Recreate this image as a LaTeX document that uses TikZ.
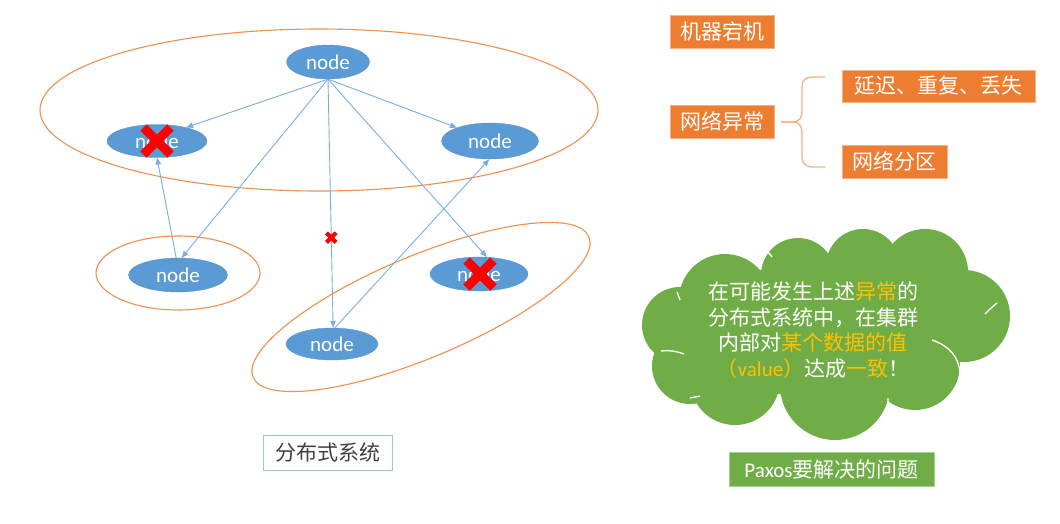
\documentclass[tikz,border=0pt]{standalone}
\usepackage{fontspec}
\setmainfont{Carlito}
\newfontfamily\cjk{Noto Sans CJK SC}
\usetikzlibrary{arrows.meta,shapes.geometric}
\definecolor{nodeblue}{HTML}{5B9BD5}
\definecolor{lineblue}{HTML}{7AAEDF}
\definecolor{orng}{HTML}{ED7D31}
\definecolor{lorng}{HTML}{F4B183}
\definecolor{grn}{HTML}{70AD47}
\definecolor{ylw}{HTML}{FFC000}
\definecolor{lblue}{HTML}{9DC3E6}
\definecolor{dgray}{HTML}{404040}
\begin{document}
\begin{tikzpicture}[x=1pt,y=-1pt,
  nd/.style={ellipse, fill=nodeblue, draw=nodeblue!90!black, line width=0.3pt, inner sep=0pt,
    minimum width=98pt, minimum height=34pt, text=white, font=\fontsize{21}{21}\selectfont},
  conn/.style={draw=lineblue, line width=0.9pt, -{Triangle[length=7pt,width=5.5pt]}},
  grp/.style={draw=orng!85, line width=1.1pt},
  obox/.style={rectangle, fill=orng, draw=orng!60, line width=0.6pt, text=white, inner sep=0pt,
    minimum height=33pt, font=\cjk\fontsize{21}{21}\selectfont},
  cloudarc/.style={draw=white, line width=1.3pt},
  bigx/.pic={\draw[red, line width=9pt] (-13.5,-13.5) -- (13.5,13.5) (-13.5,13.5) -- (13.5,-13.5);},
  smallx/.pic={\draw[red, line width=4.2pt] (-4.8,-4.8) -- (4.8,4.8) (-4.8,4.8) -- (4.8,-4.8);}
]
\fill[white] (0,0) rectangle (1060,523);
\useasboundingbox (0,0) rectangle (1060,523);

% group ellipses
\draw[grp] (319,110) ellipse [x radius=279, y radius=81];
\draw[grp] (178,273) ellipse [x radius=82, y radius=37];
\draw[grp, rotate around={22.7:(421,307)}] (421,307) ellipse [x radius=182, y radius=51];

% nodes
\node[nd, minimum width=83pt] (top) at (328,62) {node};
\node[nd, minimum width=100pt, minimum height=33pt] (lx) at (157,141) {node};
\node[nd, minimum width=97pt, minimum height=36pt] (rn) at (490,141) {node};
\node[nd, minimum width=99pt] (ml) at (178,275) {node};
\node[nd, minimum width=98pt] (rx) at (479,274) {node};
\node[nd, minimum width=92pt, minimum height=32pt] (bn) at (332,344) {node};

% connectors
\draw[conn] (top.south) -- (lx.25);
\draw[conn] (top.south) -- (rn.158);
\draw[conn] (top.south) -- (ml.78);
\draw[conn] (top.south) -- coordinate[pos=0.637] (xm) (bn.86);
\draw[conn] (top.south) -- (rx.65);
\draw[conn] (ml.96) -- (lx.south);
\draw[conn] (bn.80) -- (rn.268);

% failure marks
\pic at (xm) {smallx};
\pic at (lx.center) {bigx};
\pic at ([xshift=1pt]rx.center) {bigx};

% label box
\node[draw=lblue, line width=1pt, fill=white, text=dgray, inner sep=0pt,
  minimum width=129pt, minimum height=35pt, font=\cjk\fontsize{21}{21}\selectfont] (ds) at (327.5,452.5) {分布式系统};

% right side boxes
\node[obox, minimum width=104pt] (m1) at (722,31.5) {机器宕机};
\node[obox, minimum width=104pt] (m2) at (722,121.5) {网络异常};
\node[obox, minimum width=193pt, minimum height=32pt] (m3) at (938.5,86) {延迟、重复、丢失};
\node[obox, minimum width=105pt] (m4) at (894.5,161.5) {网络分区};

% brace
\coordinate (bt) at (781,122);
\coordinate (bu) at (825,77);
\coordinate (bd) at (825,167);
\draw[lorng, line width=1.3pt] (bt) -- (792,122) .. controls (799,122) and (802,118) .. (802,112)
  -- (802,87) .. controls (802,80) and (806,77) .. (813,77) -- (bu);
\draw[lorng, line width=1.3pt] (bt) -- (792,122) .. controls (799,122) and (802,126) .. (802,132)
  -- (802,157) .. controls (802,164) and (806,167) .. (813,167) -- (bd);

% cloud
\begin{scope}
\fill[grn] (725,300) circle[radius=46];
\fill[grn] (798,275) circle[radius=37];
\fill[grn] (863,266) circle[radius=37];
\fill[grn] (925,272) circle[radius=43];
\fill[grn] (964,316) circle[radius=46];
\fill[grn] (915,365) circle[radius=45];
\fill[grn] (835,385) circle[radius=55];
\fill[grn] (735,380) circle[radius=45];
\fill[grn] (690,366) circle[radius=38];
\fill[grn] (680,325) circle[radius=38];
\fill[grn] (825,330) ellipse[x radius=135, y radius=68];
\end{scope}
\draw[cloudarc] (661,351) .. controls (668,350) and (676,351) .. (684,354);
\draw[cloudarc] (932,340) .. controls (950,346) and (959,358) .. (960,373);
\draw[cloudarc] (985,314) .. controls (989,310) and (993,306) .. (997,303);
\draw[cloudarc] (763,248) .. controls (767,251) and (770,254) .. (772,257);
\draw[cloudarc] (690,398) .. controls (693,397) and (697,397) .. (700,396);
\draw[cloudarc] (777,410) .. controls (779,413) and (781,416) .. (783,418);
\draw[cloudarc] (888,398) .. controls (888,401) and (888,404) .. (887,407);
\draw[cloudarc] (677,292) .. controls (678,295) and (679,297) .. (680,300);

\node[align=center, text=white, inner sep=0pt, font=\cjk\fontsize{21}{25.5}\selectfont] (ct) at (813,330)
  {在可能发生上述{\color{ylw}异常}的\\
   分布式系统中，在集群\\
   内部对{\color{ylw}某个数据的值}\\
   {\color{ylw}（{\rmfamily value}）}达成{\color{ylw}一致}！};

\node[rectangle, fill=grn, draw=grn!60!white, line width=0.6pt, text=white, inner sep=0pt,
  minimum width=205pt, minimum height=34pt, font=\fontsize{21}{21}\selectfont] (pax) at (831.5,469)
  {Paxos{\cjk 要解决的问题}};
\end{tikzpicture}
\end{document}
